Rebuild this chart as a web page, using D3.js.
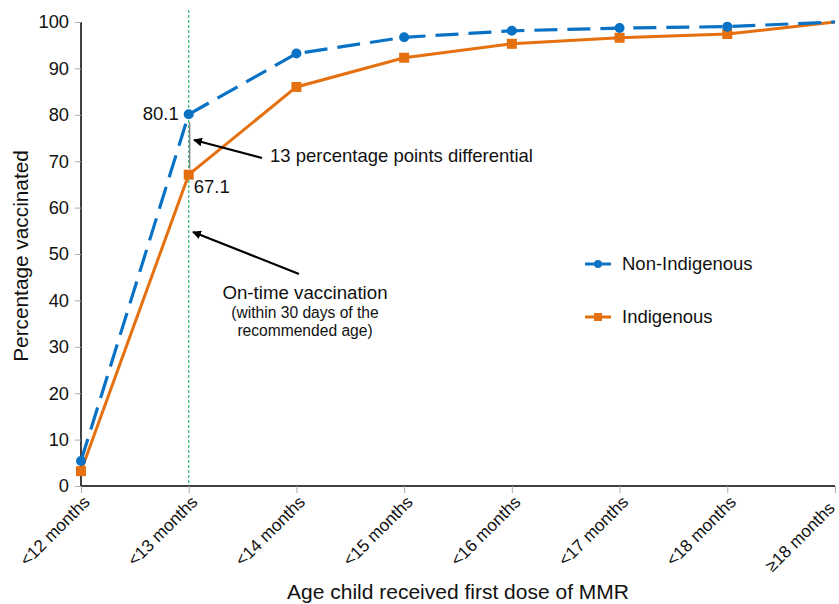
<!DOCTYPE html>
<html><head><meta charset="utf-8">
<script src="https://cdn.jsdelivr.net/npm/d3@7"></script>
<style>body{margin:0;background:#fff}svg{display:block;font-family:"Liberation Sans",Arial,Helvetica,sans-serif}</style>
</head><body><svg id="c" width="839" height="604"></svg>
<script>
const categories = ["<12 months","<13 months","<14 months","<15 months","<16 months","<17 months","<18 months","\u226518 months"];
const nonIndigenous = [5.4, 80.1, 93.2, 96.7, 98.1, 98.7, 99.0, 100];
const indigenous = [3.2, 67.1, 86.0, 92.3, 95.3, 96.6, 97.4, 100];
const yTicks = [0,10,20,30,40,50,60,70,80,90,100];

(function(){
const svg = d3.select("#c");
const pL = 81, pR = 835, pT = 22, pB = 486;
const x = d3.scalePoint().domain(categories).range([pL, pR]);
const y = d3.scaleLinear().domain([0,100]).range([pB, pT]);
const blue = "#0a72c4", orange = "#e5700f";

// green on-time line
svg.append("line").attr("x1", x(categories[1])).attr("x2", x(categories[1]))
  .attr("y1", 10).attr("y2", pB).attr("stroke", "#2fb56c").attr("stroke-width", 1.2).attr("stroke-dasharray", "3,2");

// y axis
const ya = svg.append("g").attr("transform", `translate(${pL},0)`)
  .call(d3.axisLeft(y).tickValues(yTicks).tickSize(6).tickPadding(6).tickFormat(d3.format("d")));
ya.select(".domain").attr("stroke", "#000").attr("stroke-width", 1.5).attr("d", `M0,${pB}V${pT}`);
ya.selectAll(".tick line").attr("stroke", "#aaa");
ya.selectAll(".tick text").attr("font-size", 18.3).attr("fill", "#111").attr("font-family", "Liberation Sans, Arial, sans-serif");

// x axis
const xa = svg.append("g").attr("transform", `translate(0,${pB})`)
  .call(d3.axisBottom(x).tickSize(7).tickPadding(4));
xa.select(".domain").attr("stroke", "#000").attr("stroke-width", 1.5).attr("d", `M${pL},0H${pR}`);
xa.selectAll(".tick line").attr("stroke", "#aaa");
xa.selectAll(".tick text").attr("font-size", 17.2).attr("fill", "#111")
  .attr("font-family", "Liberation Sans, Arial, sans-serif")
  .attr("text-anchor", "end").attr("dy", "0.35em")
  .attr("transform", (d,i)=> i===categories.length-1 ? "translate(-4,19) rotate(-45)" : "translate(5,13) rotate(-45)")
  .attr("y", 0).attr("x", 0);

// axis titles
svg.append("text").attr("x", 458).attr("y", 599).attr("text-anchor", "middle")
  .attr("font-size", 21).attr("fill", "#111").text("Age child received first dose of MMR");
svg.append("text").attr("transform", "translate(28,256) rotate(-90)").attr("text-anchor", "middle")
  .attr("font-size", 20.8).attr("fill", "#111").text("Percentage vaccinated");

// differential line
svg.append("line").attr("x1", x(categories[1])+1).attr("x2", x(categories[1])+1)
  .attr("y1", y(nonIndigenous[1])+8).attr("y2", y(indigenous[1])-6).attr("stroke", "#777").attr("stroke-width", 1.2);

const line = d3.line().x((d,i)=>x(categories[i])).y(d=>y(d));
svg.append("path").datum(indigenous).attr("d", line).attr("fill","none").attr("stroke", orange).attr("stroke-width", 3);
svg.append("path").datum(nonIndigenous).attr("d", line).attr("fill","none").attr("stroke", blue).attr("stroke-width", 3.2).attr("stroke-dasharray", "23,10");

const pts = categories.slice(0, 7);
svg.selectAll(".sq").data(pts).enter().append("rect")
  .attr("x", (d,i)=>x(d)-5).attr("y", (d,i)=>y(indigenous[i])-5).attr("width", 10).attr("height", 10).attr("fill", orange);
svg.selectAll(".ci").data(pts).enter().append("circle")
  .attr("cx", d=>x(d)).attr("cy", (d,i)=>y(nonIndigenous[i])).attr("r", 5).attr("fill", blue);

// value labels
svg.append("text").attr("x", x(categories[1])-10).attr("y", y(nonIndigenous[1])+6).attr("text-anchor","end")
  .attr("font-size", 18.5).attr("fill","#111").text(nonIndigenous[1].toFixed(1));
svg.append("text").attr("x", x(categories[1])+5).attr("y", y(indigenous[1])+18)
  .attr("font-size", 18.5).attr("fill","#111").text(indigenous[1].toFixed(1));

// arrows
const defs = svg.append("defs");
defs.append("marker").attr("id","ah").attr("viewBox","0 0 10 10").attr("refX",9).attr("refY",5)
  .attr("markerWidth",4).attr("markerHeight",4).attr("orient","auto")
  .append("path").attr("d","M0,0L10,5L0,10z").attr("fill","#000");
svg.append("line").attr("x1",262).attr("y1",158).attr("x2",194).attr("y2",140)
  .attr("stroke","#000").attr("stroke-width",2.2).attr("marker-end","url(#ah)");
svg.append("line").attr("x1",299).attr("y1",274).attr("x2",193).attr("y2",232)
  .attr("stroke","#000").attr("stroke-width",2.2).attr("marker-end","url(#ah)");

svg.append("text").attr("x",270).attr("y",162).attr("font-size",18.5).attr("fill","#111").text("13 percentage points differential");
svg.append("text").attr("x",305).attr("y",299).attr("text-anchor","middle").attr("font-size",18.7).attr("fill","#111").text("On-time vaccination");
svg.append("text").attr("x",305).attr("y",318).attr("text-anchor","middle").attr("font-size",15.6).attr("fill","#111").text("(within 30 days of the");
svg.append("text").attr("x",305).attr("y",336).attr("text-anchor","middle").attr("font-size",15.6).attr("fill","#111").text("recommended age)");

// legend
const lg = [{name:"Non-Indigenous", c:blue, y:264, shape:"c"},{name:"Indigenous", c:orange, y:317, shape:"s"}];
lg.forEach(l=>{
  svg.append("line").attr("x1",585).attr("x2",611).attr("y1",l.y).attr("y2",l.y).attr("stroke",l.c).attr("stroke-width",3);
  if(l.shape==="c") svg.append("circle").attr("cx",598).attr("cy",l.y).attr("r",4).attr("fill",l.c);
  else svg.append("rect").attr("x",594).attr("y",l.y-4).attr("width",8).attr("height",8).attr("fill",l.c);
  svg.append("text").attr("x",622).attr("y",l.y+6).attr("font-size",18.5).attr("fill","#111").text(l.name);
});
})();
</script></body></html>
